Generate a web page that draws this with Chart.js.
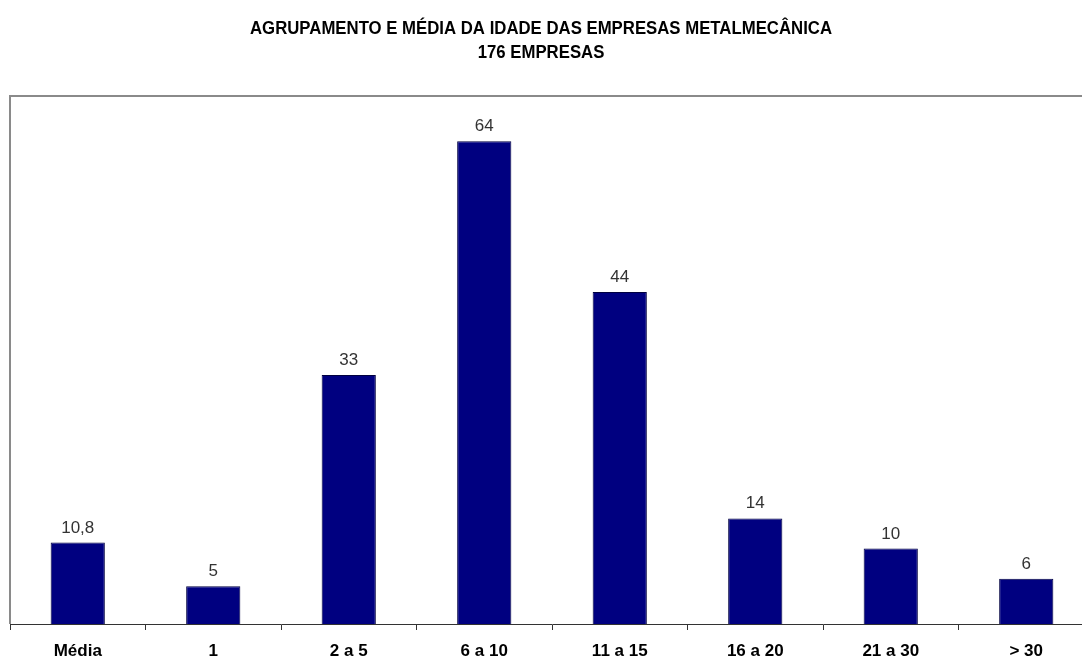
<!DOCTYPE html>
<html><head><meta charset="utf-8">
<script src="https://cdn.jsdelivr.net/npm/chart.js@4"></script>
<style>
html,body{margin:0;padding:0;background:#fff;overflow:hidden;width:1082px;height:660px;}
#wrap{width:1100px;height:660px;position:relative;}
</style></head>
<body>
<div id="wrap"><canvas id="c" width="1100" height="660"></canvas></div>
<script>
const categories = ["Média", "1", "2 a 5", "6 a 10", "11 a 15", "16 a 20", "21 a 30", "> 30"];
const values = [10.8, 5, 33, 64, 44, 14, 10, 6];
const valueLabels = ["10,8", "5", "33", "64", "44", "14", "10", "6"];
const titleLines = ["AGRUPAMENTO E MÉDIA DA IDADE DAS EMPRESAS METALMECÂNICA", "176 EMPRESAS"];
const FONT = "'Liberation Sans', Arial, sans-serif";

const decor = {
  id: 'decor',
  afterDraw(chart) {
    const ctx = chart.ctx, a = chart.chartArea;
    ctx.save();
    // frame left & top
    ctx.strokeStyle = '#8a8a8a';
    ctx.lineWidth = 2;
    ctx.beginPath();
    ctx.moveTo(a.left, a.bottom);
    ctx.lineTo(a.left, a.top);
    ctx.lineTo(a.right + 10, a.top);
    ctx.stroke();
    // title (condensed bold)
    ctx.fillStyle = '#000';
    ctx.font = "bold 19px " + FONT;
    ctx.textAlign = 'center';
    ctx.textBaseline = 'alphabetic';
    const w = ctx.measureText(titleLines[0]).width;
    const sx = 582 / w;
    ctx.save();
    ctx.translate(541, 0);
    ctx.scale(sx, 1);
    ctx.fillText(titleLines[0], 0, 34);
    ctx.fillText(titleLines[1], 0, 58);
    ctx.restore();
    // value labels
    const meta = chart.getDatasetMeta(0);
    ctx.font = "17px " + FONT;
    ctx.fillStyle = '#333';
    ctx.textAlign = 'center';
    ctx.textBaseline = 'alphabetic';
    meta.data.forEach((bar, i) => {
      ctx.fillText(valueLabels[i], bar.x, bar.y - 10);
    });
    ctx.restore();
  }
};

new Chart(document.getElementById('c'), {
  type: 'bar',
  data: {
    labels: categories,
    datasets: [{
      data: values,
      backgroundColor: '#000080',
      borderColor: '#000040',
      borderWidth: 1,
      categoryPercentage: 1,
      barPercentage: 0.4
    }]
  },
  options: {
    responsive: false,
    animation: false,
    devicePixelRatio: 1,
    layout: { padding: { left: 10, right: 6, top: 96, bottom: 0 } },
    plugins: { legend: { display: false }, title: { display: false }, tooltip: { enabled: false } },
    scales: {
      x: {
        offset: true,
        grid: { offset: true, drawOnChartArea: false, drawTicks: true, tickLength: 6, color: '#333', lineWidth: 1 },
        border: { display: true, color: '#333', width: 1 },
        ticks: { color: '#000', font: { family: FONT, size: 17, weight: 'bold' }, padding: 11, maxRotation: 0 },
        afterFit(s) { s.height = 36; }
      },
      y: {
        display: false,
        min: 0,
        max: 70
      }
    }
  },
  plugins: [decor]
});
</script>
</body></html>
